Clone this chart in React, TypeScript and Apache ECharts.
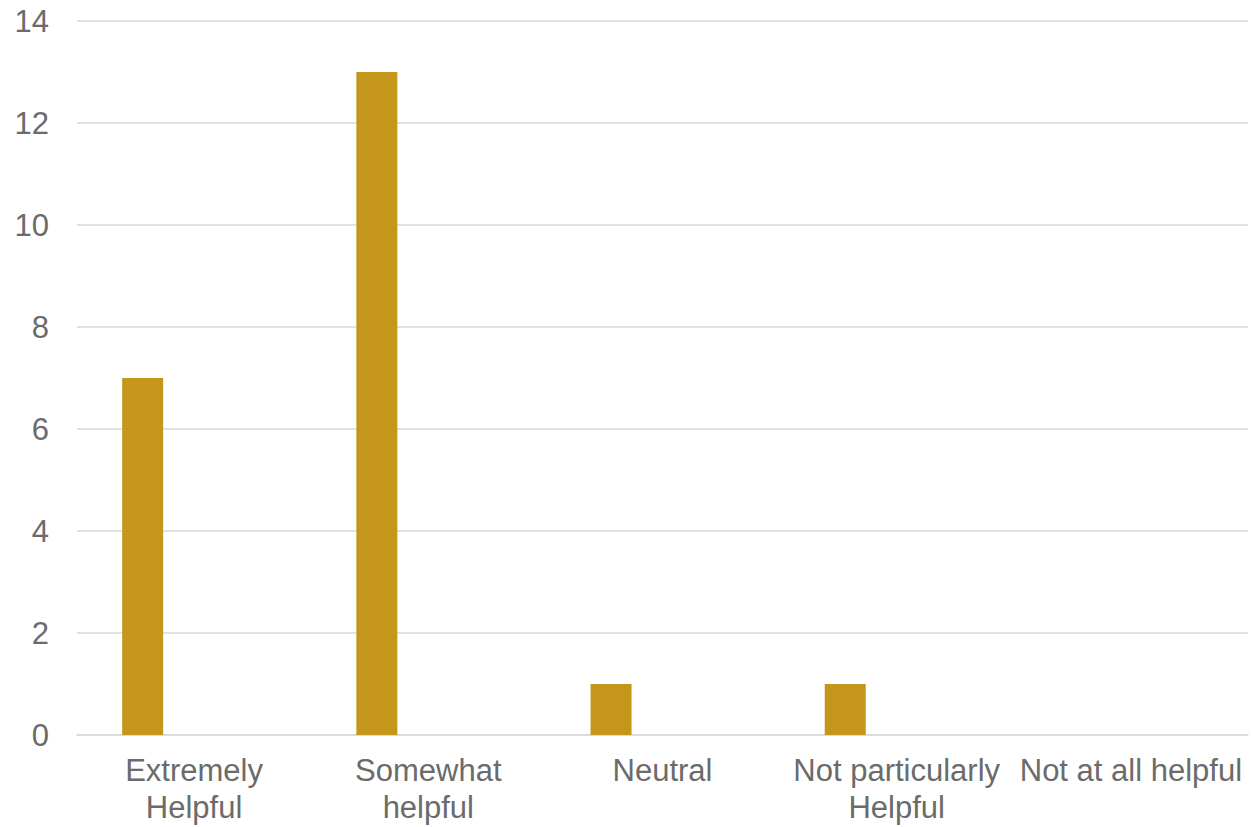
import React, { useEffect, useRef } from "react";
import * as echarts from "echarts";

const categories = [
  "Extremely\nHelpful",
  "Somewhat\nhelpful",
  "Neutral",
  "Not particularly\nHelpful",
  "Not at all helpful",
];
const responses = [7, 13, 1, 1, 0];
const emptySeries = ["-", "-", "-", "-", "-"];
const yTicks = { min: 0, max: 14, interval: 2 };

export default function App() {
  const ref = useRef<HTMLDivElement>(null);
  useEffect(() => {
    document.body.style.margin = "0";
    const chart = echarts.init(ref.current!, undefined, { renderer: "svg" });
    const textColor = "#6b6b6b";
    const font = "Liberation Sans, Arial, sans-serif";
    chart.setOption({
      animation: false,
      backgroundColor: "#ffffff",
      grid: { left: 77, right: 4, top: 21, bottom: 92, containLabel: false },
      xAxis: {
        type: "category",
        data: categories,
        axisLine: { show: true, lineStyle: { color: "#d9d9d9", width: 1.5 } },
        axisTick: { show: false },
        axisLabel: {
          color: textColor,
          fontFamily: font,
          fontSize: 31,
          lineHeight: 37,
          margin: 17,
          interval: 0,
          align: "center",
        },
      },
      yAxis: {
        type: "value",
        min: yTicks.min,
        max: yTicks.max,
        interval: yTicks.interval,
        axisLine: { show: false },
        axisTick: { show: false },
        splitLine: { lineStyle: { color: "#d9d9d9", width: 1.5 } },
        axisLabel: {
          color: textColor,
          fontFamily: font,
          fontSize: 31,
          margin: 28,
        },
      },
      series: [
        {
          type: "bar",
          data: responses,
          barWidth: 41,
          barGap: "151%",
          itemStyle: { color: "#c4961a" },
        },
        {
          type: "bar",
          data: emptySeries,
          barWidth: 41,
          itemStyle: { color: "#7f7f7f" },
        },
      ],
    });
    return () => chart.dispose();
  }, []);
  return <div ref={ref} style={{ width: 1252, height: 827 }} />;
}
